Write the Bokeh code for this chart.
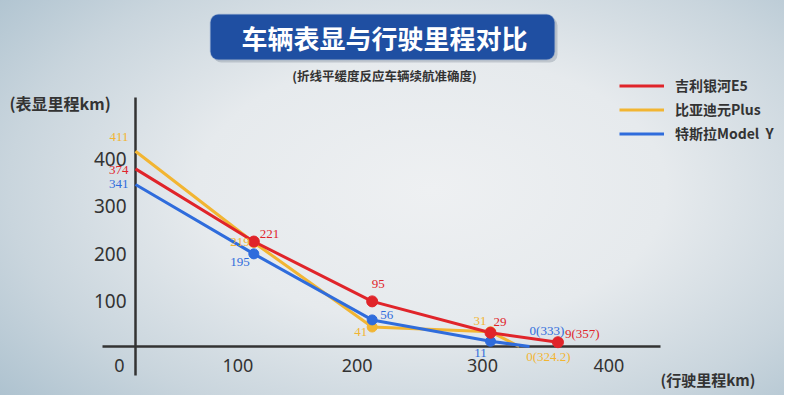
from bokeh.plotting import figure
from bokeh.models import ColumnDataSource, Label, BoxAnnotation, Legend, LegendItem, Range1d
from bokeh.core.properties import value
from bokeh.embed import file_html
from bokeh.resources import INLINE

# ---------------- data ----------------
geely_x = [0, 100, 200, 300, 357]
geely_y = [374, 221, 95, 29, 9]
byd_x = [0, 100, 200, 300, 324.2]
byd_y = [411, 219, 41, 31, 0]
tesla_x = [0, 100, 200, 300, 333]
tesla_y = [341, 195, 56, 11, 0]
series_names = ["吉利银河E5", "比亚迪元Plus", "特斯拉Model  Y"]
x_ticks = [0, 100, 200, 300, 400]
y_ticks = [100, 200, 300, 400]

# ---------------- styling ----------------
RED, YEL, BLU = "#e0242a", "#f2b532", "#2f6cdc"
DARK = "#333333"
CJK = "Noto Sans CJK SC"
W, H = 784, 395
ORIGIN_PX, SX = 135.0, 355.0 / 300.0     # x: pixel of x=0 inside the figure, px per km
BASE_PX, SY = 346.0, 0.475               # y: pixel of y=0 (from top), px per km

p = figure(width=W, height=H, output_backend="svg", toolbar_location=None,
           x_range=Range1d(-ORIGIN_PX / SX, (W - ORIGIN_PX) / SX),
           y_range=Range1d(-(H - BASE_PX) / SY, BASE_PX / SY),
           min_border=0)
p.axis.visible = False
p.grid.visible = False
p.outline_line_color = None
p.background_fill_alpha = 0
p.border_fill_alpha = 0
p.styles = {"background": "radial-gradient(ellipse 75% 85% at 55% 48%, #eef0f2 0%, #e6eaed 40%, #c9d5dd 72%, #a9bfcd 100%)"}

# title box
p.add_layout(BoxAnnotation(left=213, right=557, top=378, bottom=333,
                           left_units="screen", right_units="screen",
                           top_units="screen", bottom_units="screen",
                           fill_color="#7a8896", fill_alpha=0.35, line_color=None,
                           border_radius=8, level="underlay"))
p.add_layout(BoxAnnotation(left=210, right=554, top=381, bottom=336,
                           left_units="screen", right_units="screen",
                           top_units="screen", bottom_units="screen",
                           fill_color="#1f4fa2", fill_alpha=1, line_color="#3b66b3",
                           line_width=1.5, border_radius=8))
p.add_layout(Label(x=384, y=358, x_units="screen", y_units="screen",
                   text="车辆表显与行驶里程对比", text_align="center", text_baseline="middle",
                   text_font=CJK, text_font_style="bold", text_font_size="26px",
                   text_color="white"))
p.add_layout(Label(x=384, y=320, x_units="screen", y_units="screen",
                   text="(折线平缓度反应车辆续航准确度)", text_align="center", text_baseline="middle",
                   text_font=CJK, text_font_style="bold", text_font_size="12.5px",
                   text_color=DARK))
p.add_layout(Label(x=9, y=293, x_units="screen", y_units="screen",
                   text="(表显里程km)", text_align="left", text_baseline="middle",
                   text_font=CJK, text_font_style="bold", text_font_size="16px",
                   text_color=DARK))
p.add_layout(Label(x=660, y=16, x_units="screen", y_units="screen",
                   text="(行驶里程km)", text_align="left", text_baseline="middle",
                   text_font=CJK, text_font_style="bold", text_font_size="15px",
                   text_color=DARK))

# axis lines
p.segment(x0=[0], y0=[(BASE_PX - 97) / SY], x1=[0], y1=[-(375 - BASE_PX) / SY],
          line_color=DARK, line_width=2.5)
p.segment(x0=[-(ORIGIN_PX - 102) / SX], y0=[0], x1=[(660 - ORIGIN_PX) / SX], y1=[0],
          line_color=DARK, line_width=2.5)

# tick labels
p.text(x=x_ticks, y=[0] * len(x_ticks), text=[str(t) for t in x_ticks],
       x_offset=[-16, -16, -15, -8, 0], y_offset=19,
       text_align="center", text_baseline="middle",
       text_font=value("Noto Sans"), text_font_size="18px", text_color=DARK)
p.text(x=[0] * len(y_ticks), y=y_ticks, text=[str(t) for t in y_ticks],
       x_offset=-9, y_offset=2, text_align="right", text_baseline="middle",
       text_font=value("Noto Sans"), text_font_size="19px", text_color=DARK)

# lines
r_byd = p.line(byd_x, byd_y, line_color=YEL, line_width=3)
r_tesla = p.line(tesla_x, tesla_y, line_color=BLU, line_width=3)
r_geely = p.line(geely_x, geely_y, line_color=RED, line_width=3)
p.scatter(byd_x[1:4], byd_y[1:4], size=10, fill_color=YEL, line_color=YEL)
p.scatter(tesla_x[1:4], tesla_y[1:4], size=10, fill_color=BLU, line_color=BLU)
p.scatter(geely_x[1:], geely_y[1:], size=11, fill_color=RED, line_color=RED)

# value labels
def labels(xs, ys, aligns, dxs, dys, color):
    txt = [str(v) for v in ys[:-1]]
    last = ys[-1]
    txt.append(f"{last}({xs[-1]})")
    src = ColumnDataSource(dict(x=xs, y=ys, text=txt, align=aligns, dx=dxs, dy=dys))
    p.text(x="x", y="y", text="text", source=src, x_offset="dx", y_offset="dy",
           text_align="align", text_baseline="middle",
           text_font=value("Liberation Serif"), text_font_size="13px", text_color=color)

labels(geely_x, geely_y, ["right", "left", "center", "left", "left"],
       [-7, 6, 6, 3, 7], [1, -8, -17, -11, -9], RED)
labels(tesla_x, tesla_y, ["right", "right", "left", "center", "left"],
       [-7, -4, 8, -10, 0], [-1, 8, -5, 12, -16], BLU)
labels(byd_x, byd_y, ["right", "right", "right", "right", "left"],
       [-7, -4, -5, -4, 7], [-14, 0, 5, -11, 10], YEL)

# legend
legend = Legend(items=[LegendItem(label=series_names[0], renderers=[r_geely]),
                       LegendItem(label=series_names[1], renderers=[r_byd]),
                       LegendItem(label=series_names[2], renderers=[r_tesla])],
                location=(619, 252), orientation="vertical",
                padding=0, margin=0, spacing=4, glyph_width=45, glyph_height=19,
                label_height=19, label_standoff=11,
                label_text_font=CJK, label_text_font_style="bold",
                label_text_font_size="14px", label_text_color=DARK,
                background_fill_alpha=0, border_line_alpha=0)
p.add_layout(legend)

open("out.html", "w").write(file_html(p, INLINE))
